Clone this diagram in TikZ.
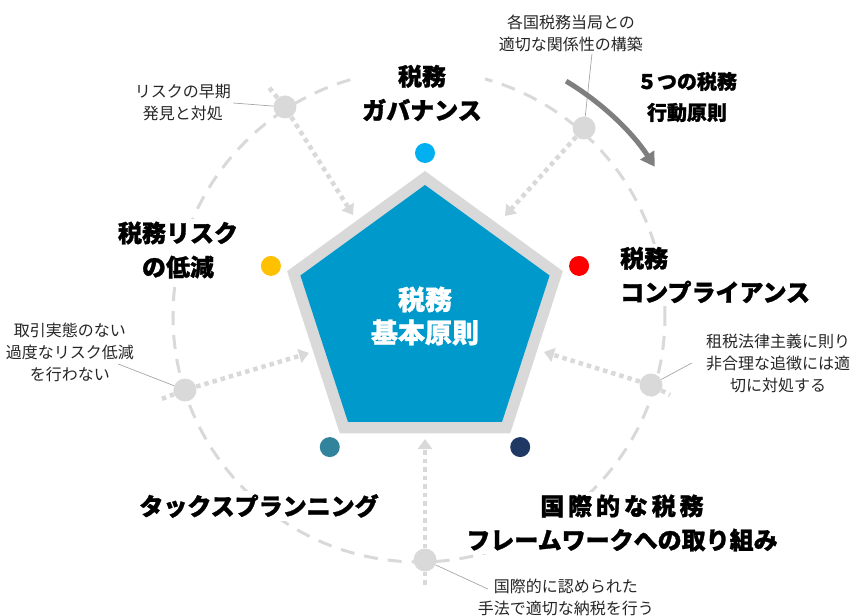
\documentclass[tikz,border=0pt]{standalone}
\usepackage{fontspec}
\setmainfont{Noto Sans CJK JP}[BoldFeatures={FakeBold=1.2}]
\usepackage{tikz}
\usetikzlibrary{shapes.geometric,arrows.meta}

\definecolor{coreblue}{HTML}{0099CC}
\definecolor{rimgray}{HTML}{D9D9D9}
\definecolor{dotblue}{HTML}{00B0F0}
\definecolor{dotred}{HTML}{FF0000}
\definecolor{dotnavy}{HTML}{1F3864}
\definecolor{dotteal}{HTML}{31849B}
\definecolor{dotyellow}{HTML}{FFC000}
\definecolor{arcgray}{HTML}{7F7F7F}

\tikzstyle{penta} = [regular polygon, regular polygon sides=5, inner sep=0pt, outer sep=0pt]
\tikzstyle{cornerdot} = [circle, minimum size=20pt, inner sep=0pt]
\tikzstyle{hubdot} = [circle, fill=rimgray, minimum size=23pt, inner sep=0pt]
\tikzstyle{bigtitle} = [fill=white, align=center, inner sep=3pt, font=\fontsize{24}{34}\selectfont\bfseries]
\tikzstyle{note} = [align=center, inner sep=2pt, text=black!85, font=\fontsize{16}{22}\selectfont]
\tikzstyle{feed} = [rimgray, line width=4.5pt, dash pattern=on 4.5pt off 4pt, -{Triangle[width=14pt,length=10pt]}]
\tikzstyle{tail} = [rimgray, line width=4.5pt, dash pattern=on 4.5pt off 4pt]
\tikzstyle{ring} = [rimgray, line width=3pt, dash pattern=on 14pt off 10pt]
\tikzstyle{leader} = [black!35, line width=0.7pt]

\begin{document}
\begin{tikzpicture}[x=1pt, y=1pt]
	% frame: origin is the middle of the pentagon
	\useasboundingbox (-425,-300) rectangle (427,316);

	% dashed ring
	\draw [ring] (-6,0) circle [radius=246];

	% pentagon with grey rim
	\node (rim) [penta, fill=rimgray, minimum size=290pt] at (0,0) {};
	\node (core) [penta, fill=coreblue, minimum size=262pt, text=white, align=center,
		font=\fontsize{27}{33}\selectfont\bfseries] at (0,0) {税務\\基本原則};

	% coloured dots at the corners
	\node (cTop) [cornerdot, fill=dotblue] at (90:163) {};
	\node (cRight) [cornerdot, fill=dotred] at (18:162) {};
	\node (cLowR) [cornerdot, fill=dotnavy] at (-54:162) {};
	\node (cLowL) [cornerdot, fill=dotteal] at (-126:162) {};
	\node (cLeft) [cornerdot, fill=dotyellow] at (162:162) {};

	% grey hubs on the ring
	\node (hTL) [hubdot] at (-140,209) {};
	\node (hTR) [hubdot] at (159,188) {};
	\node (hR) [hubdot] at (226,-69) {};
	\node (hB) [hubdot] at (0,-244) {};
	\node (hL) [hubdot] at (-240,-74) {};

	% ends of the dotted arrows
	\coordinate (tTL) at (-72,101);
	\coordinate (tTR) at (80,100);
	\coordinate (tR) at (119,-36);
	\coordinate (tB) at (0,-123);
	\coordinate (tL) at (-116,-37);
	\coordinate (oTL) at (-158,231);
	\coordinate (oR) at (245,-79);
	\coordinate (oB) at (0,-270);
	\coordinate (oL) at (-266,-84);

	% dotted arrows into the pentagon
	\draw [feed] (hTL) -- (tTL);
	\draw [feed] (hTR) -- (tTR);
	\draw [feed] (hR) -- (tR);
	\draw [feed] (hB) -- (tB);
	\draw [feed] (hL) -- (tL);
	\draw [tail] (hTL) -- (oTL);
	\draw [tail] (hR) -- (oR);
	\draw [tail] (hB) -- (oB);
	\draw [tail] (hL) -- (oL);

	% main labels
	\node (gov) [bigtitle] at (-3,223) {税務\\ガバナンス};
	\node (lowrisk) [bigtitle] at (-247,66) {税務リスク\\の低減};
	\node (comply) [bigtitle, align=left, anchor=west] at (192,41) {税務\\コンプライアンス};
	\node (planning) [bigtitle] at (-166,-190) {タックスプランニング};
	\node (global) [bigtitle] at (197,-207) {{\addfontfeature{LetterSpace=16}国際的な税務}\\フレームワークへの取り組み};

	% small notes
	\node (early) [note] at (-242,213) {リスクの早期\\発見と対処};
	\node (authority) [note] at (146,283) {各国税務当局との\\適切な関係性の構築};
	\node (excess) [note] at (-355,-36) {取引実態のない\\過度なリスク低減\\を行わない};
	\node (legal) [note] at (353,-47) {租税法律主義に則り\\非合理な追徴には適\\切に対処する};
	\node (fairtax) [note] at (141,-281) {国際的に認められた\\手法で適切な納税を行う};

	% thin leader lines
	\draw [leader] (early.east) -- (hTL);
	\draw [leader] ([xshift=21pt]authority.south) -- (hTR);
	\draw [leader] ([shift={(-18pt,-12pt)}]excess.east) -- (hL);
	\draw [leader] ([xshift=-12pt]legal.west) -- (hR);
	\draw [leader] ([shift={(12pt,8pt)}]fairtax.west) -- (hB);

	% curved arrow with its caption
	\node (fiveways) [align=center, font=\fontsize{20}{31}\selectfont\bfseries] at (262,219) {５つの税務\\行動原則};
	\coordinate (arcS) at (59:274);
	\draw [arcgray, line width=5pt, -{Triangle[width=16pt,length=14pt]}] (arcS) arc [start angle=59, end angle=33, radius=274];
\end{tikzpicture}
\end{document}
